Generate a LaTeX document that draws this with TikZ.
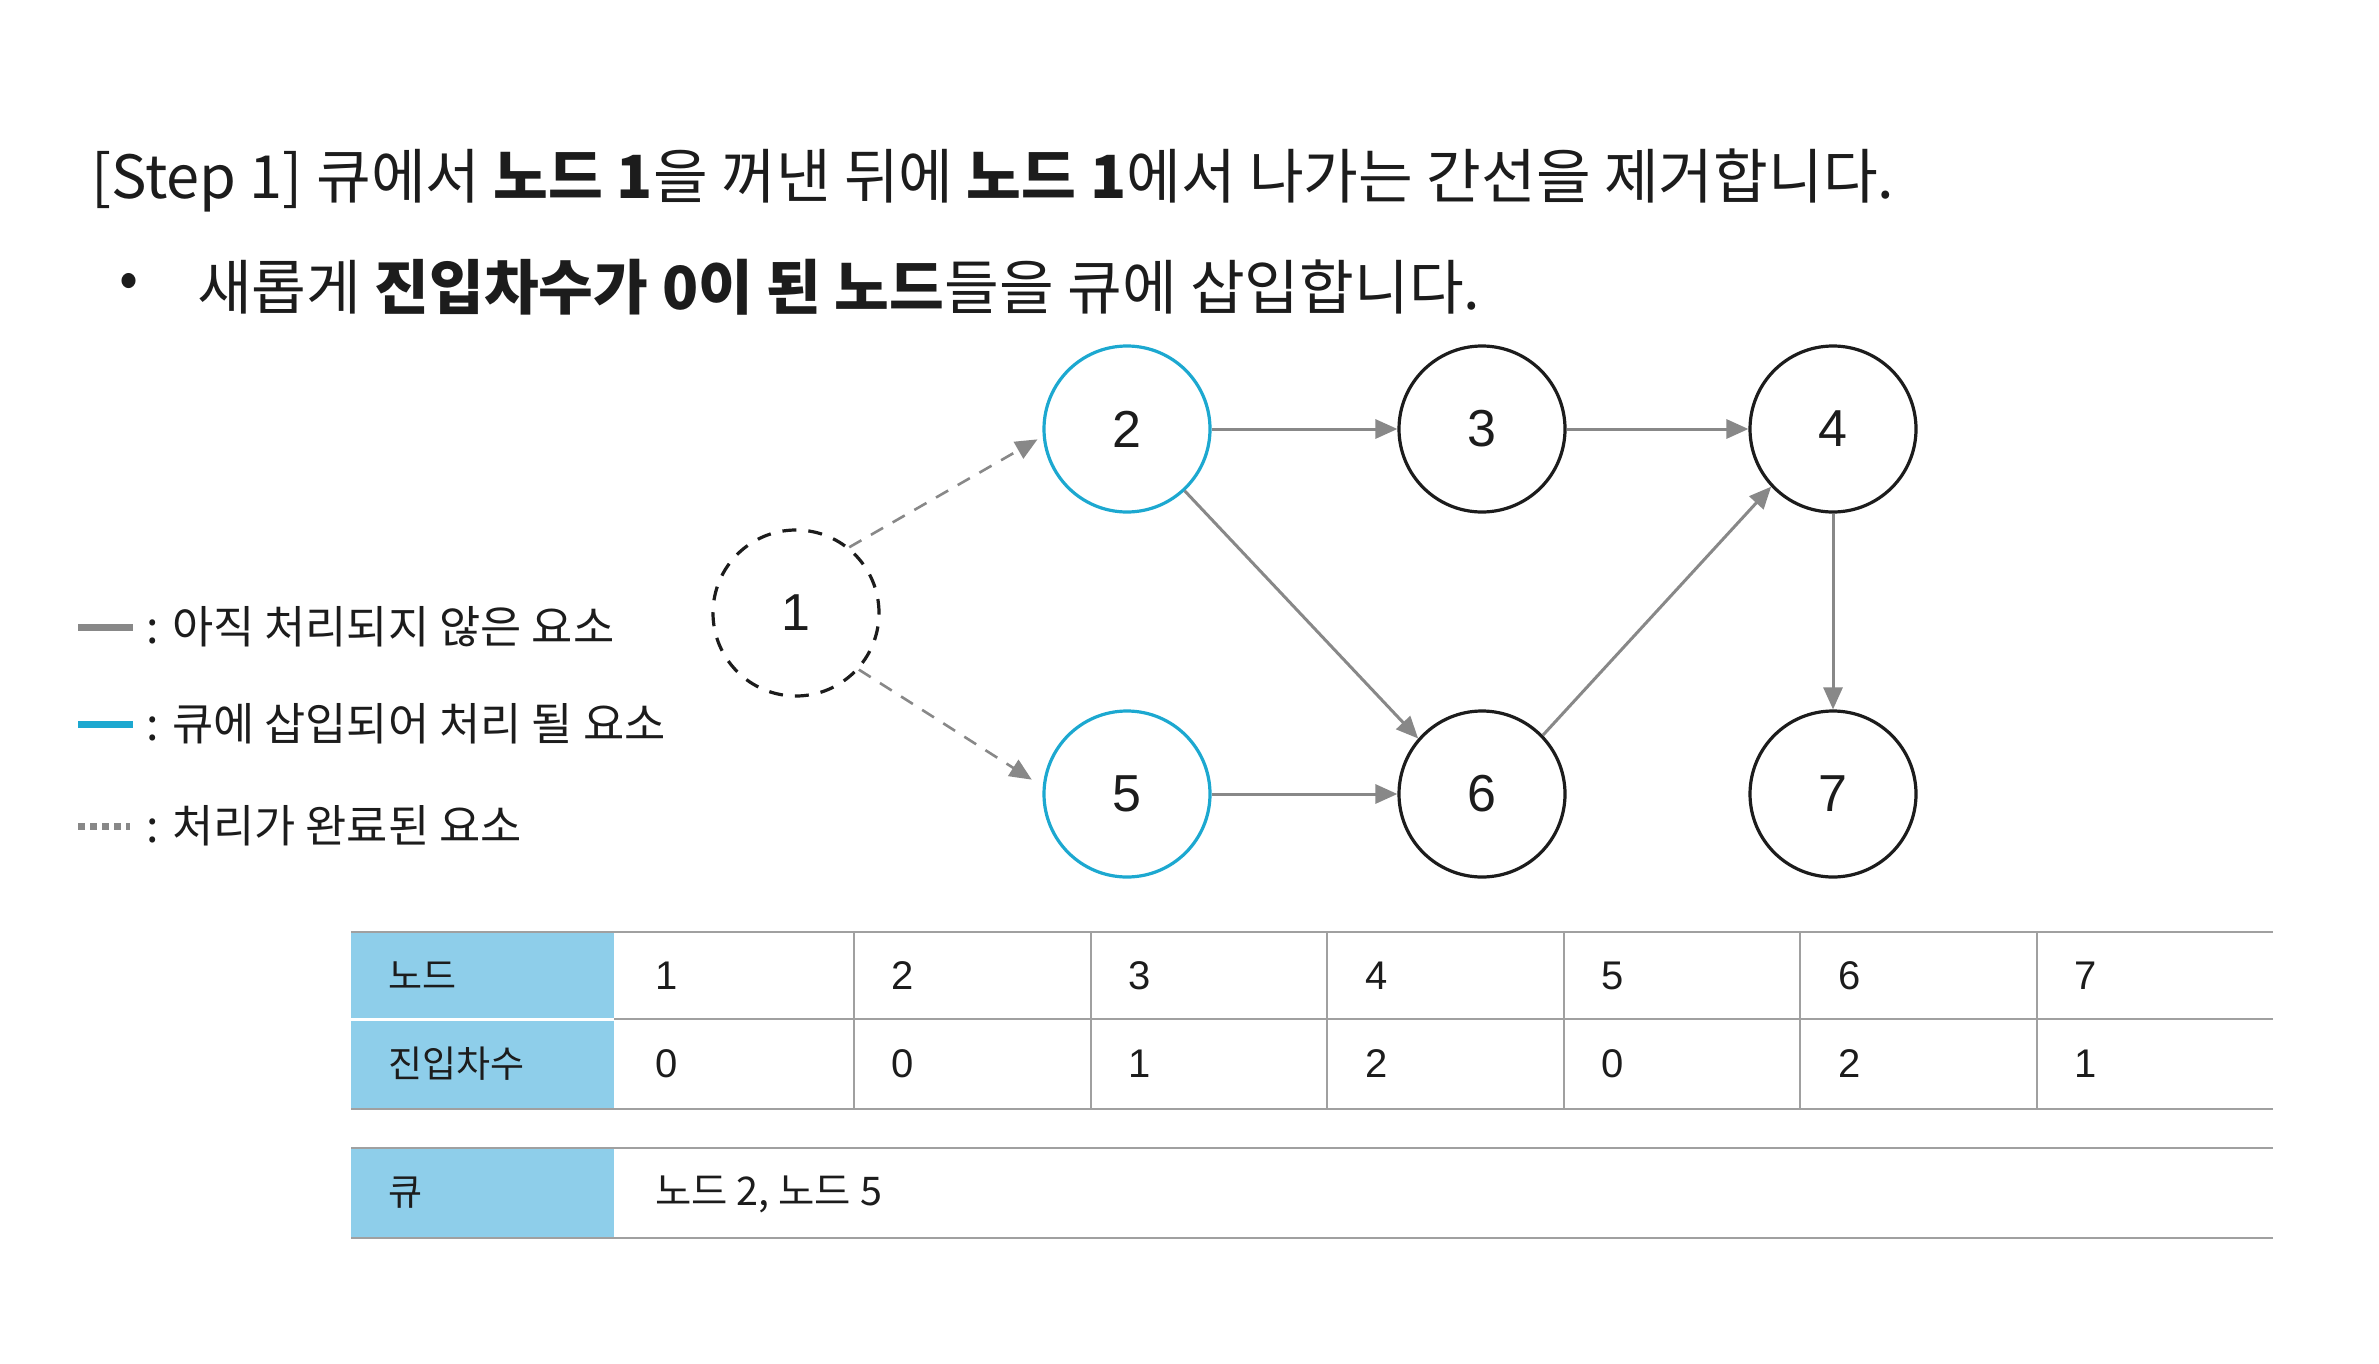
\documentclass[tikz,border=0pt]{standalone}
\usepackage{fontspec}
\setmainfont{Noto Sans CJK KR}
\newfontfamily\numfont{Liberation Sans}
\usetikzlibrary{arrows.meta}
\definecolor{qblue}{RGB}{28,168,208}
\definecolor{hblue}{RGB}{142,206,234}
\definecolor{edgegray}{RGB}{136,136,136}
\definecolor{tgray}{RGB}{160,160,160}
\definecolor{ink}{RGB}{28,28,28}
\begin{document}
\begin{tikzpicture}[x=1pt,y=-1pt,
  vert/.style={circle, draw=ink, line width=3.2pt, minimum size=166pt, inner sep=0pt,
    text=ink, font=\numfont\fontsize{52}{56}\selectfont},
  queued/.style={vert, draw=qblue},
  donev/.style={vert, dash pattern=on 14pt off 12pt},
  edge/.style={draw=edgegray, line width=3pt, -{Triangle[length=22pt,width=19pt]}},
  doneedge/.style={edge, dash pattern=on 14pt off 11pt, line width=2.6pt},
  big/.style={font=\fontsize{59.5}{64}\selectfont, text=ink, inner sep=0pt, anchor=west},
  leg/.style={font=\fontsize{44.8}{50}\selectfont, text=ink, inner sep=0pt, anchor=west},
  hdr/.style={font=\fontsize{37}{40}\selectfont, text=ink, inner sep=0pt, anchor=west},
  cell/.style={font=\numfont\fontsize{40}{44}\selectfont, text=ink, inner sep=0pt, anchor=west},
  tline/.style={draw=tgray, line width=2.8pt},
  tvline/.style={draw=tgray, line width=2pt}
]
\useasboundingbox[fill=white] (0,0) rectangle (2379,1364);

% heading
\node[big] (title) at (91,180) {[Step 1] 큐에서 \textbf{노드 1}을 꺼낸 뒤에 \textbf{노드 1}에서 나가는 간선을 제거합니다.};
\node[font=\fontsize{56}{62}\selectfont, text=ink, inner sep=0pt] (bullet) at (129,285) {•};
\node[big] (sub) at (197,287) {새롭게 \textbf{진입차수가 0이 된 노드}들을 큐에 삽입합니다.};

% legend
\draw[edgegray, line width=7pt] (78,627) -- (133,627);
\node[leg] (leg1) at (146,627) {: 아직 처리되지 않은 요소};
\draw[qblue, line width=7pt] (78,724) -- (133,724);
\node[leg] (leg2) at (146,724) {: 큐에 삽입되어 처리 될 요소};
\draw[edgegray, line width=7pt, dash pattern=on 7pt off 5pt] (78,826) -- (130,826);
\node[leg] (leg3) at (146,826) {: 처리가 완료된 요소};

% graph
\node[donev] (n1) at (796,613) {1};
\node[queued] (n2) at (1127,429) {2};
\node[vert] (n3) at (1482,429) {3};
\node[vert] (n4) at (1833,429) {4};
\node[queued] (n5) at (1127,794) {5};
\node[vert] (n6) at (1482,794) {6};
\node[vert] (n7) at (1833,794) {7};

\draw[doneedge, shorten >=6pt] (n1.51) -- (n2.185);
\draw[doneedge, shorten >=13pt] (n1.-42) -- (n5.175);
\draw[edge] (n2.east) -- (n3.west);
\draw[edge] (n3.east) -- (n4.west);
\draw[edge] (n5.east) -- (n6.west);
\draw[edge] (n2.-47) -- (n6.139);
\draw[edge] (n6.44) -- (n4.223);
\draw[edge] (n4.south) -- (n7.north);

% table
\fill[hblue] (351,932) rectangle (614,1109);
\draw[white, line width=3pt] (351,1019) -- (614,1019);
\fill[hblue] (351,1148) rectangle (614,1238);
\draw[tline] (351,932) -- (2273,932);
\draw[tline] (614,1019) -- (2273,1019);
\draw[tline] (351,1109) -- (2273,1109);
\draw[tline] (351,1148) -- (2273,1148);
\draw[tline] (351,1238) -- (2273,1238);
\foreach \x in {853.5,1090.5,1327,1563.5,1800,2036.5}
  \draw[tvline] (\x,932) -- (\x,1109);

\node[hdr] (hnode) at (388,975.5) {노드};
\node[hdr] (hdeg) at (388,1064) {진입차수};
\node[hdr] (hq) at (388,1193) {큐};

\node[cell] (c1) at (655,975.5) {1};
\node[cell] (c2) at (891.5,975.5) {2};
\node[cell] (c3) at (1128,975.5) {3};
\node[cell] (c4) at (1365,975.5) {4};
\node[cell] (c5) at (1601.5,975.5) {5};
\node[cell] (c6) at (1838,975.5) {6};
\node[cell] (c7) at (2074.5,975.5) {7};

\node[cell] (d1) at (655,1064) {0};
\node[cell] (d2) at (891.5,1064) {0};
\node[cell] (d3) at (1128,1064) {1};
\node[cell] (d4) at (1365,1064) {2};
\node[cell] (d5) at (1601.5,1064) {0};
\node[cell] (d6) at (1838,1064) {2};
\node[cell] (d7) at (2074.5,1064) {1};

\node[hdr, font=\fontsize{39.5}{42}\selectfont] (qv) at (655,1194) {노드 2, 노드 5};
\end{tikzpicture}
\end{document}
